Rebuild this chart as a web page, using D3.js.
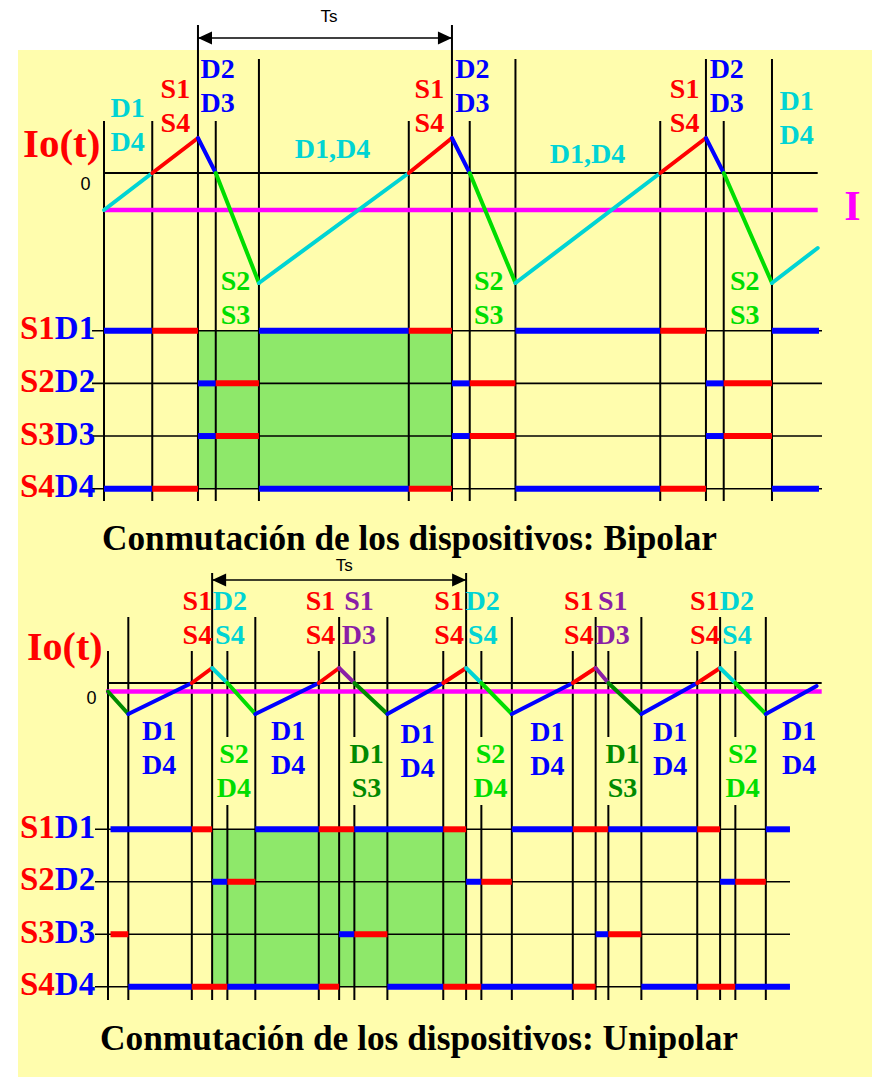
<!DOCTYPE html>
<html>
<head>
<meta charset="utf-8">
<script src="https://cdn.jsdelivr.net/npm/d3@7"></script>
<style>
  html, body { margin: 0; padding: 0; background: #ffffff; }
  svg { display: block; }
</style>
</head>
<body>
<svg id="chart" width="872" height="1077"></svg>
<script>
// ------------------------------------------------------------------
// Data. Time is measured in hundredths of a switching period (Ts = 100).
// ------------------------------------------------------------------
const rowNames = ["S1D1", "S2D2", "S3D3", "S4D4"];

// ---- Bipolar switching ----
const bipCurrentT = [0, 19, 37, 44, 61, 120, 137, 144, 162, 219, 237, 244, 263, 281];
const bipCurrentI = [-3.7, 0, 3.5, 0, -11, 0, 3.5, 0, -11, 0, 3.5, 0, -11, -7.5];
const bipSegmentState = ["D1D4", "S1S4", "D2D3", "S2S3", "D1D4", "S1S4", "D2D3", "S2S3",
                         "D1D4", "S1S4", "D2D3", "S2S3", "D1D4"];
const bipLoadCurrent = -3.7;
const bipEdgeT = [0, 19, 37, 44, 61, 120, 137, 144, 162, 219, 237, 244, 263];
const bipEdgeKind = ["zero", "zero", "period", "zero", "peak", "zero", "period", "zero",
                     "peak", "zero", "peak", "zero", "peak"];
const bipPeriod = [37, 137];
const bipRowS1D1 = [[0, 19, "D"], [19, 37, "S"], [61, 120, "D"], [120, 137, "S"], [162, 219, "D"], [219, 237, "S"], [263, 281.5, "D"]];
const bipRowS2D2 = [[37, 44, "D"], [44, 61, "S"], [137, 144, "D"], [144, 162, "S"], [237, 244, "D"], [244, 263, "S"]];
const bipRowS3D3 = [[37, 44, "D"], [44, 61, "S"], [137, 144, "D"], [144, 162, "S"], [237, 244, "D"], [244, 263, "S"]];
const bipRowS4D4 = [[0, 19, "D"], [19, 37, "S"], [61, 120, "D"], [120, 137, "S"], [162, 219, "D"], [219, 237, "S"], [263, 281.5, "D"]];
// annotation: [time, current, first line, second line, conducting pair]
const bipLabels = [
  [9.3, 5.6, "D1", "D4", "D1D4"],
  [28.1, 7.5, "S1", "S4", "S1S4"],
  [44.7, 9.5, "D2", "D3", "D2D3"],
  [51.8, -11.7, "S2", "S3", "S2S3"],
  [90.0, 1.5, "D1,D4", "", "D1D4"],
  [128.1, 7.5, "S1", "S4", "S1S4"],
  [145.0, 9.5, "D2", "D3", "D2D3"],
  [151.5, -11.7, "S2", "S3", "S2S3"],
  [190.4, 1.0, "D1,D4", "", "D1D4"],
  [228.6, 7.5, "S1", "S4", "S1S4"],
  [245.2, 9.5, "D2", "D3", "D2D3"],
  [252.3, -11.7, "S2", "S3", "S2S3"],
  [272.7, 6.3, "D1", "D4", "D1D4"]
];

// ---- Unipolar switching ----
const uniCurrentT = [0, 8, 33, 41, 47, 58, 83, 91, 97, 110, 132, 141, 147, 159, 183, 192, 197, 210, 232, 241, 247, 259, 279];
const uniCurrentI = [-0.85, -3.1, 0, 1.5, 0, -3.1, 0, 1.5, 0, -3.1, 0, 1.5, 0, -3.1, 0, 1.5, 0, -3.1, 0, 1.5, 0, -3.1, -0.3];
const uniSegmentState = ["D1S3", "D1D4", "S1S4", "D2S4", "S2D4", "D1D4", "S1S4", "S1D3", "D1S3", "D1D4",
                         "S1S4", "D2S4", "S2D4", "D1D4", "S1S4", "S1D3", "D1S3", "D1D4", "S1S4", "D2S4",
                         "S2D4", "D1D4"];
const uniLoadCurrent = -0.85;
const uniEdgeT = [0, 8, 33, 41, 47, 58, 83, 91, 97, 110, 132, 141, 147, 159, 183, 192, 197, 210, 232, 241, 247, 259];
const uniEdgeKind = ["zero", "peak", "zero", "period", "zero", "peak", "zero", "peak", "zero", "peak", "zero",
                     "period", "zero", "peak", "zero", "peak", "zero", "peak", "zero", "peak", "zero", "peak"];
const uniEdgeBroken = [47, 97, 147, 197, 247];
const uniPeriod = [41, 141];
const uniRowS1D1 = [[1, 33, "D"], [33, 41, "S"], [58, 83, "D"], [83, 97, "S"], [97, 132, "D"], [132, 141, "S"],
                    [159, 183, "D"], [183, 197, "S"], [197, 232, "D"], [232, 241, "S"], [259, 268.5, "D"]];
const uniRowS2D2 = [[41, 47, "D"], [47, 58, "S"], [141, 147, "D"], [147, 159, "S"], [241, 247, "D"], [247, 259, "S"]];
const uniRowS3D3 = [[1, 8, "S"], [91, 97, "D"], [97, 110, "S"], [192, 197, "D"], [197, 210, "S"]];
const uniRowS4D4 = [[8, 33, "D"], [33, 47, "S"], [47, 83, "D"], [83, 91, "S"], [110, 132, "D"], [132, 147, "S"],
                    [147, 183, "D"], [183, 192, "S"], [210, 232, "D"], [232, 247, "S"], [247, 268.5, "D"]];
const uniLabels = [
  [35.2, 7.3, "S1", "S4", "S1S4"],
  [48.0, 7.3, "D2", "S4", "D2S4"],
  [83.7, 7.3, "S1", "S4", "S1S4"],
  [98.8, 7.3, "S1", "D3", "S1D3"],
  [134.3, 7.3, "S1", "S4", "S1S4"],
  [147.5, 7.3, "D2", "S4", "D2S4"],
  [185.4, 7.3, "S1", "S4", "S1S4"],
  [198.7, 7.3, "S1", "D3", "S1D3"],
  [235.0, 7.3, "S1", "S4", "S1S4"],
  [247.6, 7.3, "D2", "S4", "D2S4"],
  [20.1, -5.7, "D1", "D4", "D1D4"],
  [49.6, -8.0, "S2", "D4", "S2D4"],
  [70.9, -5.7, "D1", "D4", "D1D4"],
  [101.8, -8.0, "D1", "S3", "D1S3"],
  [121.9, -6.0, "D1", "D4", "D1D4"],
  [150.6, -8.0, "S2", "D4", "S2D4"],
  [173.0, -5.8, "D1", "D4", "D1D4"],
  [202.6, -8.0, "D1", "S3", "D1S3"],
  [221.3, -5.8, "D1", "D4", "D1D4"],
  [249.9, -8.0, "S2", "D4", "S2D4"],
  [272.1, -5.7, "D1", "D4", "D1D4"]
];

// ------------------------------------------------------------------
// Styling
// ------------------------------------------------------------------
const SERIF = '"Liberation Serif", "Times New Roman", serif';
const SANS = '"Liberation Sans", Arial, sans-serif';
const bipColor = { "D1D4": "#00d4d4", "S1S4": "#ff0000", "D2D3": "#0000ff", "S2S3": "#00dd00" };
const uniColor = {
  "D1D4": "#0000ff", "S1S4": "#ff0000", "D2S4": "#00d4d4",
  "S2D4": "#00dd00", "S1D3": "#8a1fa6", "D1S3": "#008a00"
};
const barColor = { D: "#0000ff", S: "#ff0000" };
const fillColor = "#8ee86a";
const bgColor = "#fffdad";

const svg = d3.select("#chart");
svg.append("rect").attr("width", 872).attr("height", 1077).attr("fill", "#ffffff");
svg.append("rect").attr("x", 18).attr("y", 50).attr("width", 854).attr("height", 1027).attr("fill", bgColor);

function drawPanel(p) {
  const g = svg.append("g");
  const x = d3.scaleLinear().domain([0, 281]).range(p.xRange);
  const y = d3.scaleLinear().domain(p.iDomain).range(p.yRange);
  const row = d3.scalePoint().domain(rowNames).range(p.rowRange);
  const line = d3.line().x(d => x(d[0])).y(d => y(d[1]));

  // shaded switching period
  g.append("rect")
    .attr("x", x(p.period[0])).attr("width", x(p.period[1]) - x(p.period[0]))
    .attr("y", row(rowNames[0])).attr("height", row(rowNames[3]) - row(rowNames[0]))
    .attr("fill", fillColor);

  // row baselines
  g.selectAll(".rowline").data(rowNames).join("line")
    .attr("x1", p.rowLineX[0]).attr("x2", p.rowLineX[1])
    .attr("y1", d => row(d)).attr("y2", d => row(d))
    .attr("stroke", "#000").attr("stroke-width", 1.6);

  // vertical switching instants
  p.edgeT.forEach((t, k) => {
    const top = p.edgeTop[p.edgeKind[k]];
    const segs = p.broken.includes(t) ? [[top, p.gap[0]], [p.gap[1], p.edgeBottom]] : [[top, p.edgeBottom]];
    segs.forEach(s => {
      g.append("line").attr("x1", x(t)).attr("x2", x(t)).attr("y1", s[0]).attr("y2", s[1])
        .attr("stroke", "#000").attr("stroke-width", 2);
    });
  });

  // load current reference and zero axis
  g.append("line").attr("x1", p.magentaX[0]).attr("x2", p.magentaX[1])
    .attr("y1", y(p.load)).attr("y2", y(p.load))
    .attr("stroke", "#ff00ff").attr("stroke-width", 4.5);
  g.append("line").attr("x1", x(0)).attr("x2", p.magentaX[1])
    .attr("y1", y(0)).attr("y2", y(0))
    .attr("stroke", "#000").attr("stroke-width", 2);

  // output current, coloured by conducting pair
  p.state.forEach((s, k) => {
    g.append("path")
      .datum([[p.curT[k], p.curI[k]], [p.curT[k + 1], p.curI[k + 1]]])
      .attr("d", line).attr("fill", "none")
      .attr("stroke", p.colors[s])
      .attr("stroke-width", 4).attr("stroke-linecap", "round");
  });

  // device conduction bars
  p.rows.forEach((segs, r) => {
    g.selectAll(null).data(segs).join("line")
      .attr("x1", d => x(d[0])).attr("x2", d => x(d[1]))
      .attr("y1", row(rowNames[r])).attr("y2", row(rowNames[r]))
      .attr("stroke", d => barColor[d[2]]).attr("stroke-width", 6);
  });

  // row names
  rowNames.forEach(n => {
    const t = g.append("text").attr("x", 20).attr("y", row(n) + 8.6)
      .attr("font-family", SERIF).attr("font-weight", "bold").attr("font-size", 33);
    t.append("tspan").attr("fill", "#ff0000").text(n.slice(0, 2));
    t.append("tspan").attr("fill", "#0000ff").text(n.slice(2));
  });

  // conduction labels
  p.labels.forEach(l => {
    const t = g.append("text").attr("text-anchor", "middle")
      .attr("font-family", SERIF).attr("font-weight", "bold").attr("font-size", 28)
      .attr("fill", p.colors[l[4]]);
    t.append("tspan").attr("x", x(l[0])).attr("y", y(l[1])).text(l[2]);
    if (l[3]) t.append("tspan").attr("x", x(l[0])).attr("y", y(l[1]) + 34).text(l[3]);
  });

  // axis texts
  g.append("text").attr("x", p.ioPos[0]).attr("y", p.ioPos[1])
    .attr("font-family", SERIF).attr("font-weight", "bold").attr("font-size", p.ioSize)
    .attr("fill", "#ff0000").text("Io(t)");
  g.append("text").attr("x", p.zeroPos[0]).attr("y", p.zeroPos[1]).attr("text-anchor", "middle")
    .attr("font-family", SANS).attr("font-size", 18).attr("fill", "#000").text("0");

  // Ts dimension arrow
  const ax0 = x(p.period[0]), ax1 = x(p.period[1]), ay = p.arrowY;
  g.append("line").attr("x1", ax0).attr("x2", ax1).attr("y1", ay).attr("y2", ay)
    .attr("stroke", "#000").attr("stroke-width", 1.6);
  [[ax0, 1], [ax1, -1]].forEach(([tx, dir]) => {
    g.append("path")
      .attr("d", `M${tx},${ay} L${tx + dir * 14},${ay - 6.5} L${tx + dir * 14},${ay + 6.5} Z`)
      .attr("fill", "#000");
  });
  g.append("text").attr("x", (ax0 + ax1) / 2 + p.tsDx).attr("y", p.tsY).attr("text-anchor", "middle")
    .attr("font-family", SANS).attr("font-size", 17).attr("fill", "#000").text("Ts");

  // caption
  g.append("text").attr("x", p.caption[0]).attr("y", p.caption[1])
    .attr("font-family", SERIF).attr("font-weight", "bold").attr("font-size", 35)
    .attr("textLength", p.caption[2]).attr("lengthAdjust", "spacingAndGlyphs")
    .attr("fill", "#000").text(p.caption[3]);

  return { x, y };
}

// Bipolar panel
drawPanel({
  xRange: [104, 817.7], iDomain: [-11, 3.5], yRange: [283, 138],
  rowRange: [330.7, 488.7], rowLineX: [92, 822],
  curT: bipCurrentT, curI: bipCurrentI, state: bipSegmentState, load: bipLoadCurrent,
  colors: bipColor,
  edgeT: bipEdgeT, edgeKind: bipEdgeKind, edgeTop: { zero: 121, peak: 59, period: 25 },
  edgeBottom: 501, broken: [], gap: [0, 0],
  magentaX: [104, 817.7],
  period: bipPeriod,
  rows: [bipRowS1D1, bipRowS2D2, bipRowS3D3, bipRowS4D4],
  labels: bipLabels,
  ioPos: [23, 157], ioSize: 41, zeroPos: [85.5, 190],
  arrowY: 38, tsY: 22, tsDx: 4,
  caption: [102, 550, 615, "Conmutación de los dispositivos: Bipolar"]
});

// Unipolar panel
drawPanel({
  xRange: [108, 821.7], iDomain: [-3.1, 1.5], yRange: [714, 668],
  rowRange: [829.3, 986.7], rowLineX: [95, 790],
  curT: uniCurrentT, curI: uniCurrentI, state: uniSegmentState, load: uniLoadCurrent,
  colors: uniColor,
  edgeT: uniEdgeT, edgeKind: uniEdgeKind, edgeTop: { zero: 651, peak: 617, period: 573 },
  edgeBottom: 1000, broken: uniEdgeBroken, gap: [737, 805],
  magentaX: [106, 821.7],
  period: uniPeriod,
  rows: [uniRowS1D1, uniRowS2D2, uniRowS3D3, uniRowS4D4],
  labels: uniLabels,
  ioPos: [27, 660], ioSize: 40, zeroPos: [91.5, 703.5],
  arrowY: 580, tsY: 571, tsDx: 5,
  caption: [100, 1050, 638, "Conmutación de los dispositivos: Unipolar"]
});

// load current marker "I"
svg.append("text").attr("x", 852.5).attr("y", 220).attr("text-anchor", "middle")
  .attr("font-family", SERIF).attr("font-weight", "bold").attr("font-size", 42)
  .attr("fill", "#ff00ff").text("I");
</script>
</body>
</html>
